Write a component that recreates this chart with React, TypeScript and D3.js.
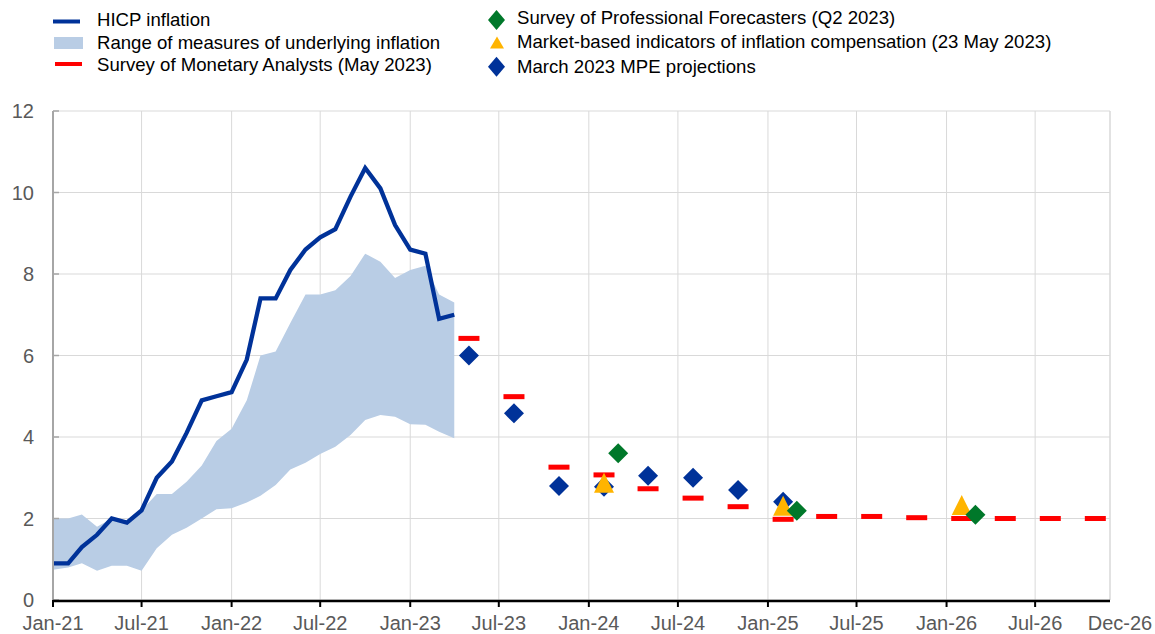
import React from "react";
import * as d3 from "d3";

// ---------- DATA ----------
const hicpStart = "2021-01";
const hicpValues = [0.9, 0.9, 1.3, 1.6, 2.0, 1.9, 2.2, 3.0, 3.4, 4.1, 4.9, 5.0, 5.1, 5.9, 7.4, 7.4, 8.1, 8.6, 8.9, 9.1, 9.9, 10.6, 10.1, 9.2, 8.6, 8.5, 6.9, 7.0];
const rangeUpper = [2.0, 2.0, 2.1, 1.8, 2.0, 1.9, 2.2, 2.6, 2.6, 2.9, 3.3, 3.9, 4.2, 4.9, 6.0, 6.1, 6.8, 7.5, 7.5, 7.6, 7.95, 8.5, 8.3, 7.9, 8.1, 8.2, 7.5, 7.3];
const rangeLower = [0.74, 0.8, 0.9, 0.72, 0.84, 0.84, 0.72, 1.27, 1.6, 1.77, 2.0, 2.23, 2.25, 2.39, 2.56, 2.82, 3.2, 3.37, 3.58, 3.76, 4.05, 4.42, 4.54, 4.5, 4.31, 4.3, 4.13, 3.97];

const smaDates = ["2023-05", "2023-08", "2023-11", "2024-02", "2024-05", "2024-08", "2024-11", "2025-02", "2025-05", "2025-08", "2025-11", "2026-02", "2026-05", "2026-08", "2026-11"];
const smaValues = [6.42, 4.99, 3.26, 3.07, 2.73, 2.5, 2.29, 1.98, 2.05, 2.05, 2.02, 2.0, 2.0, 2.0, 2.0];

const mpeDates = ["2023-05", "2023-08", "2023-11", "2024-02", "2024-05", "2024-08", "2024-11", "2025-02"];
const mpeValues = [6.0, 4.58, 2.8, 2.78, 3.05, 3.0, 2.7, 2.41];

const marketDates = ["2024-02", "2025-02", "2026-02"];
const marketValues = [2.88, 2.31, 2.33];

const spfDates = ["2024-03", "2025-03", "2026-03"];
const spfValues = [3.6, 2.19, 2.09];

const xTickDates = ["2021-01", "2021-07", "2022-01", "2022-07", "2023-01", "2023-07", "2024-01", "2024-07", "2025-01", "2025-07", "2026-01", "2026-07"];
const xEndDate = "2026-12";
const yTicks = [0, 2, 4, 6, 8, 10, 12];

const legendLeft = ["HICP inflation", "Range of measures of underlying inflation", "Survey of Monetary Analysts (May 2023)"];
const legendRight = ["Survey of Professional Forecasters (Q2 2023)", "Market-based indicators of inflation compensation (23 May 2023)", "March 2023 MPE projections"];

// ---------- STYLE ----------
const W = 1155, H = 634;
const M = { left: 53, right: 1110, top: 111, bottom: 600 };
const C = {
  hicp: "#003299",
  band: "#b9cde5",
  sma: "#ff0000",
  spf: "#00782a",
  market: "#ffb400",
  mpe: "#003299",
  grid: "#d9d9d9",
  tickText: "#595959",
};
const FONT = "'Liberation Sans', Arial, sans-serif";
const LEG_FS = 18.6;

const parse = d3.timeParse("%Y-%m");
const fmt = d3.timeFormat("%b-%y");

export default function App() {
  const x = d3.scaleTime().domain([parse(hicpStart)!, parse(xEndDate)!]).range([M.left, M.right]);
  const y = d3.scaleLinear().domain([0, 12]).range([M.bottom, M.top]);

  const start = parse(hicpStart)!;
  const hicp = hicpValues.map((v, i) => ({ d: d3.timeMonth.offset(start, i), v }));
  const band = rangeUpper.map((u, i) => ({ d: d3.timeMonth.offset(start, i), u, l: rangeLower[i] }));

  const line = d3.line<{ d: Date; v: number }>().x((p) => x(p.d)).y((p) => y(p.v));
  const area = d3
    .area<{ d: Date; u: number; l: number }>()
    .x((p) => x(p.d))
    .y0((p) => y(p.l))
    .y1((p) => y(p.u));

  const diamond = (cx: number, cy: number, hw: number, hh: number) =>
    `M${cx},${cy - hh}L${cx + hw},${cy}L${cx},${cy + hh}L${cx - hw},${cy}Z`;
  const tri = (cx: number, cy: number, w: number, h: number) =>
    `M${cx},${cy - h / 2}L${cx + w / 2},${cy + h / 2}L${cx - w / 2},${cy + h / 2}Z`;

  const xTicks = xTickDates.map((s) => parse(s)!);
  const xEnd = parse(xEndDate)!;

  return (
    <svg width={W} height={H} style={{ position: "absolute", left: 0, top: 0, fontFamily: FONT }}>
      <rect width={W} height={H} fill="#fff" />
      {/* gridlines */}
      {yTicks.map((t) => (
        <line key={"gy" + t} x1={M.left} x2={M.right} y1={y(t)} y2={y(t)} stroke={C.grid} strokeWidth={1} />
      ))}
      {xTicks.slice(1).map((t, i) => (
        <line key={"gx" + i} x1={x(t)} x2={x(t)} y1={M.top} y2={M.bottom} stroke={C.grid} strokeWidth={1} />
      ))}
      <line x1={x(xEnd)} x2={x(xEnd)} y1={M.top} y2={M.bottom} stroke={C.grid} strokeWidth={1.5} />

      {/* band + line */}
      <path d={area(band)!} fill={C.band} />
      <path d={line(hicp)!} fill="none" stroke={C.hicp} strokeWidth={4.3} strokeLinejoin="miter" />

      {/* MPE diamonds */}
      {mpeDates.map((s, i) => (
        <path key={"mpe" + i} d={diamond(x(parse(s)!), y(mpeValues[i]), 10, 10)} fill={C.mpe} />
      ))}
      {/* SMA dashes */}
      {smaDates.map((s, i) => (
        <rect key={"sma" + i} x={x(parse(s)!) - 10.5} y={y(smaValues[i]) - 2.5} width={21} height={5} fill={C.sma} />
      ))}
      {/* Market triangles */}
      {marketDates.map((s, i) => (
        <path key={"mk" + i} d={tri(x(parse(s)!), y(marketValues[i]), 20, 20)} fill={C.market} />
      ))}
      {/* SPF diamonds */}
      {spfDates.map((s, i) => (
        <path key={"spf" + i} d={diamond(x(parse(s)!), y(spfValues[i]), 10, 10)} fill={C.spf} />
      ))}

      {/* y axis */}
      <line x1={M.left} x2={M.left} y1={M.top} y2={M.bottom} stroke="#a6a6a6" strokeWidth={2} />
      {yTicks.map((t) => (
        <g key={"yt" + t}>
          <line x1={M.left} x2={M.left + 6} y1={y(t)} y2={y(t)} stroke="#a6a6a6" strokeWidth={1.5} />
          <text x={34} y={y(t)} dy="0.35em" textAnchor="end" fontSize={20} fill={C.tickText}>
            {t}
          </text>
        </g>
      ))}

      {/* x axis */}
      <line x1={M.left} x2={M.right} y1={M.bottom + 1} y2={M.bottom + 1} stroke="#000" strokeWidth={2.5} />
      {xTicks.map((t, i) => (
        <g key={"xt" + i}>
          <line x1={x(t)} x2={x(t)} y1={M.bottom} y2={M.bottom + 7} stroke="#000" strokeWidth={2} />
          <text x={x(t)} y={630} textAnchor="middle" fontSize={20} fill={C.tickText}>
            {fmt(t)}
          </text>
        </g>
      ))}
      <text x={x(xEnd) + 10} y={630} textAnchor="middle" fontSize={20} fill={C.tickText}>
        {fmt(xEnd)}
      </text>

      {/* legend left */}
      <line x1={53} x2={80} y1={21.5} y2={21.5} stroke={C.hicp} strokeWidth={4} />
      <text x={97} y={26} fontSize={LEG_FS} fill="#000">{legendLeft[0]}</text>
      <rect x={54} y={37} width={29} height={12} fill={C.band} />
      <text x={97} y={49} fontSize={LEG_FS} fill="#000">{legendLeft[1]}</text>
      <rect x={55} y={62} width={27} height={4} fill={C.sma} />
      <text x={97} y={71} fontSize={LEG_FS} fill="#000">{legendLeft[2]}</text>

      {/* legend right */}
      <path d={diamond(496.5, 20, 8.5, 10)} fill={C.spf} />
      <text x={517} y={24} fontSize={LEG_FS} fill="#000">{legendRight[0]}</text>
      <path d={tri(497, 42.5, 14, 12)} fill={C.market} />
      <text x={517} y={48} fontSize={LEG_FS} fill="#000">{legendRight[1]}</text>
      <path d={diamond(496.5, 66.7, 8.5, 10)} fill={C.mpe} />
      <text x={517} y={73} fontSize={LEG_FS} fill="#000">{legendRight[2]}</text>
    </svg>
  );
}
